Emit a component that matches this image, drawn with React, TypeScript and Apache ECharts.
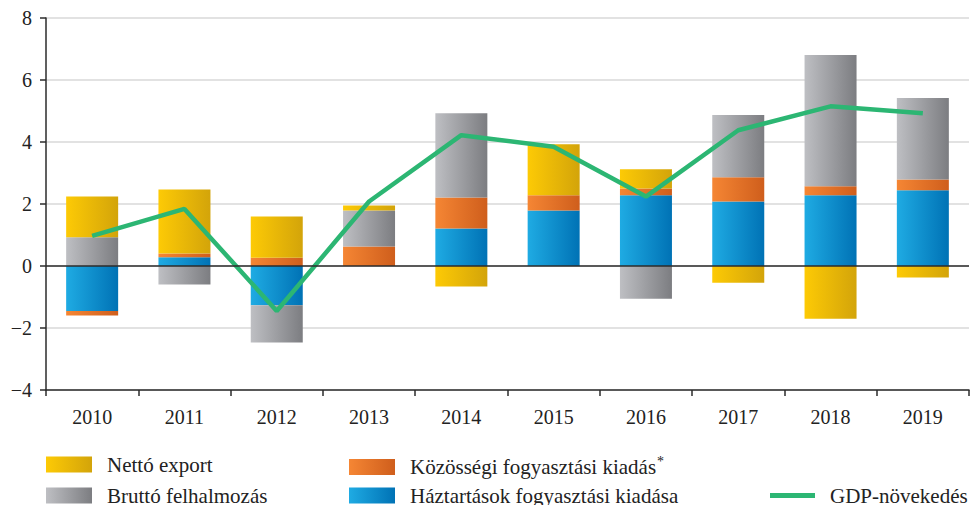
import React, { useEffect, useRef } from "react";
import * as echarts from "echarts";

const years = ["2010", "2011", "2012", "2013", "2014", "2015", "2016", "2017", "2018", "2019"];
const households = [-1.45, 0.28, -1.27, 0, 1.21, 1.79, 2.28, 2.08, 2.28, 2.44];
const community = [-0.15, 0.12, 0.27, 0.63, 1.0, 0.49, 0.22, 0.78, 0.29, 0.35];
const grossCapital = [0.93, -0.6, -1.2, 1.16, 2.72, 0, -1.06, 2.01, 4.24, 2.63];
const netExport = [1.31, 2.07, 1.33, 0.16, -0.66, 1.65, 0.62, -0.54, -1.7, -0.37];
const gdpGrowth = [0.97, 1.84, -1.45, 2.08, 4.22, 3.85, 2.24, 4.38, 5.15, 4.93];

const NAME_NET = "Nettó export";
const NAME_GROSS = "Bruttó felhalmozás";
const NAME_COMM = "Közösségi fogyasztási kiadás";
const NAME_HH = "Háztartások fogyasztási kiadása";
const NAME_GDP = "GDP-növekedés";

const FONT = "Liberation Serif";

const grad = (a: string, b: string) => ({
  type: "linear",
  x: 0,
  y: 0,
  x2: 1,
  y2: 0,
  colorStops: [
    { offset: 0, color: a },
    { offset: 1, color: b },
  ],
});

const cYellow = grad("#fdca05", "#d3a40a");
const cGray = grad("#bebfc3", "#7c7d81");
const cOrange = grad("#f58634", "#cf5e1c");
const cBlue = grad("#1fabe3", "#0072b5");

export default function App() {
  const ref = useRef<HTMLDivElement>(null);
  useEffect(() => {
    if (!ref.current) return;
    const chart = echarts.init(ref.current, null, { renderer: "svg" });
    const barCommon = { type: "bar", stack: "total", barWidth: 52 };
    const legendText = {
      fontFamily: FONT,
      fontSize: 21,
      color: "#222",
      padding: [0, 0, 0, 10],
      rich: {
        t: { fontFamily: FONT, fontSize: 21, color: "#222" },
        s: { fontFamily: FONT, fontSize: 14, color: "#222", padding: [0, 0, 12, 1] },
      },
    };
    const fmt = (name: string) =>
      name === NAME_COMM ? `{t|${name}}{s|*}` : `{t|${name}}`;
    const mkLegend = (name: string, left: number, cy: number, w = 46, h = 16) => ({
      left,
      top: cy - 12,
      orient: "horizontal",
      padding: 0,
      itemWidth: w,
      itemHeight: h,
      icon: "rect",
      data: [name],
      textStyle: legendText,
      formatter: fmt,
      selectedMode: false,
    });
    chart.setOption({
      animation: false,
      textStyle: { fontFamily: FONT },
      grid: { left: 46, right: 9, top: 18, bottom: 115, containLabel: false },
      legend: [
        mkLegend(NAME_NET, 46, 466),
        mkLegend(NAME_GROSS, 46, 497),
        mkLegend(NAME_COMM, 349, 466),
        mkLegend(NAME_HH, 349, 497),
        mkLegend(NAME_GDP, 770, 497, 45, 5),
      ],
      xAxis: {
        type: "category",
        data: years,
        boundaryGap: true,
        axisLine: { onZero: false, lineStyle: { color: "#2b2b2b", width: 1.5 } },
        axisTick: { show: true, length: 6, alignWithLabel: false, lineStyle: { color: "#2b2b2b", width: 1.5 } },
        axisLabel: { color: "#222", fontSize: 20, fontFamily: FONT, margin: 17 },
        splitLine: { show: false },
      },
      yAxis: {
        type: "value",
        min: -4,
        max: 8,
        interval: 2,
        axisLine: { show: true, lineStyle: { color: "#2b2b2b", width: 1.5 } },
        axisTick: { show: true, length: 6, lineStyle: { color: "#2b2b2b", width: 1.5 } },
        axisLabel: {
          color: "#222",
          fontSize: 20,
          fontFamily: FONT,
          margin: 14,
          formatter: (v: number) => String(v).replace("-", "\u2212"),
        },
        splitLine: { show: true, lineStyle: { color: "#d9d9d9", width: 1.5 } },
      },
      series: [
        { ...barCommon, name: NAME_HH, data: households, itemStyle: { color: cBlue } },
        { ...barCommon, name: NAME_COMM, data: community, itemStyle: { color: cOrange } },
        { ...barCommon, name: NAME_GROSS, data: grossCapital, itemStyle: { color: cGray } },
        { ...barCommon, name: NAME_NET, data: netExport, itemStyle: { color: cYellow } },
        {
          type: "line",
          name: NAME_GDP,
          data: gdpGrowth,
          z: 4,
          symbol: "none",
          showSymbol: false,
          lineStyle: { color: "#2cb673", width: 4.5 },
          itemStyle: { color: "#2cb673" },
          markLine: {
            silent: true,
            symbol: ["none", "none"],
            label: { show: false },
            lineStyle: { color: "#2b2b2b", width: 1.5, type: "solid" },
            data: [{ yAxis: 0 }],
          },
        },
      ],
    });
    return () => chart.dispose();
  }, []);
  return (
    <div
      ref={ref}
      style={{ position: "absolute", left: 0, top: 0, width: 978, height: 505, background: "#fff" }}
    />
  );
}
